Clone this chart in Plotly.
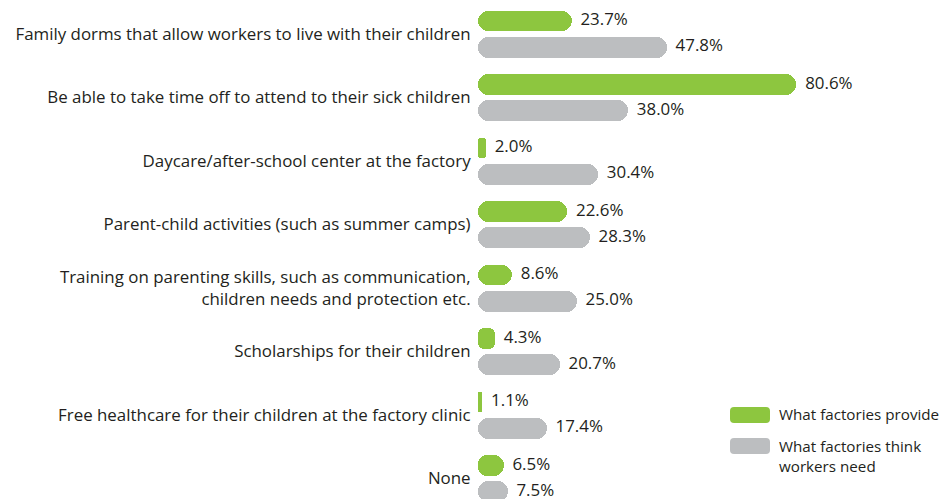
import plotly.graph_objects as go

categories = [
    "Family dorms that allow workers to live with their children",
    "Be able to take time off to attend to their sick children",
    "Daycare/after-school center at the factory",
    "Parent-child activities (such as summer camps)",
    "Training on parenting skills, such as communication,<br>children needs and protection etc.",
    "Scholarships for their children",
    "Free healthcare for their children at the factory clinic",
    "None",
]
provide = [23.7, 80.6, 2.0, 22.6, 8.6, 4.3, 1.1, 6.5]
need = [47.8, 38.0, 30.4, 28.3, 25.0, 20.7, 17.4, 7.5]
series_names = ["What factories provide", "What factories think<br>workers need"]

GREEN = "#8dc63f"
GRAY = "#bcbec0"
TXT = "#231f20"
FONT = "Open Sans"
FS = 16.9

W, H = 950, 499
D = 8            # page offset of the figure (body margin)
L = 478 - D      # left margin so the bar base sits at screen x=478
OFF = 0.205
BW = 0.33

fig = go.Figure()
idx = list(range(len(categories)))

def add_series(vals, offset, color):
    ys = [i + offset for i in idx]
    a = [v * 0.25 for v in vals]
    b = [v * 0.75 for v in vals]
    fig.add_trace(go.Bar(x=b, base=a, y=ys, orientation="h", width=BW,
                         marker=dict(color=color, cornerradius=10, line=dict(width=0)),
                         showlegend=False, hoverinfo="skip"))
    fig.add_trace(go.Bar(x=[-q for q in b], base=b, y=ys, orientation="h", width=BW,
                         marker=dict(color=color, cornerradius=10, line=dict(width=0)),
                         showlegend=False, hoverinfo="skip"))
    fig.add_trace(go.Scatter(x=vals, y=ys, mode="text", text=["  %.1f%%" % v for v in vals],
                             textposition="middle right",
                             textfont=dict(family=FONT, size=FS, color=TXT),
                             showlegend=False, hoverinfo="skip", cliponaxis=False))

add_series(provide, -OFF, GREEN)
add_series(need, OFF, GRAY)

px_per_unit = 63.5
row0 = 34 - D
y_top = -row0 / px_per_unit
y_bot = 7 + (H - (row0 + 7 * px_per_unit)) / px_per_unit
xmax = (W - L) / 3.95

fig.update_layout(
    width=W, height=H,
    margin=dict(l=L, r=0, t=0, b=0),
    paper_bgcolor="white", plot_bgcolor="white",
    barmode="overlay", bargap=0,
    font=dict(family=FONT, size=FS, color=TXT),
    xaxis=dict(range=[0, xmax], visible=False, fixedrange=True, automargin=False),
    yaxis=dict(range=[y_bot, y_top], tickvals=idx, ticktext=categories,
               showgrid=False, zeroline=False, showline=False, automargin=False,
               ticks="outside", ticklen=3, tickcolor="rgba(0,0,0,0)",
               tickfont=dict(family=FONT, size=FS, color=TXT)),
)

# legend (custom, rounded swatches); coordinates given as screen pixels
def px2paper(x, y):
    return (x - D - L) / (W - L), (H - (y - D)) / H

def rounded_rect(x0, y0, x1, y1, r):
    def p(x, y):
        a, b = px2paper(x, y)
        return "%f,%f" % (a, b)
    return ("M" + p(x0 + r, y0) + " L" + p(x1 - r, y0) + " Q" + p(x1, y0) + " " + p(x1, y0 + r) +
            " L" + p(x1, y1 - r) + " Q" + p(x1, y1) + " " + p(x1 - r, y1) +
            " L" + p(x0 + r, y1) + " Q" + p(x0, y1) + " " + p(x0, y1 - r) +
            " L" + p(x0, y0 + r) + " Q" + p(x0, y0) + " " + p(x0 + r, y0) + " Z")

legend_items = [(GREEN, 407, 423, series_names[0], 414),
                (GRAY, 438, 454, series_names[1], 456)]
for color, y0, y1, name, ty in legend_items:
    fig.add_shape(type="path", xref="paper", yref="paper",
                  path=rounded_rect(730, y0, 770, y1, 4),
                  fillcolor=color, line=dict(width=0))
    tx, tyy = px2paper(777, ty)
    fig.add_annotation(x=tx, y=tyy, xref="paper", yref="paper", text=name,
                       showarrow=False, xanchor="left", yanchor="middle", align="left",
                       font=dict(family=FONT, size=15.2, color=TXT))

fig.write_html("out.html")
